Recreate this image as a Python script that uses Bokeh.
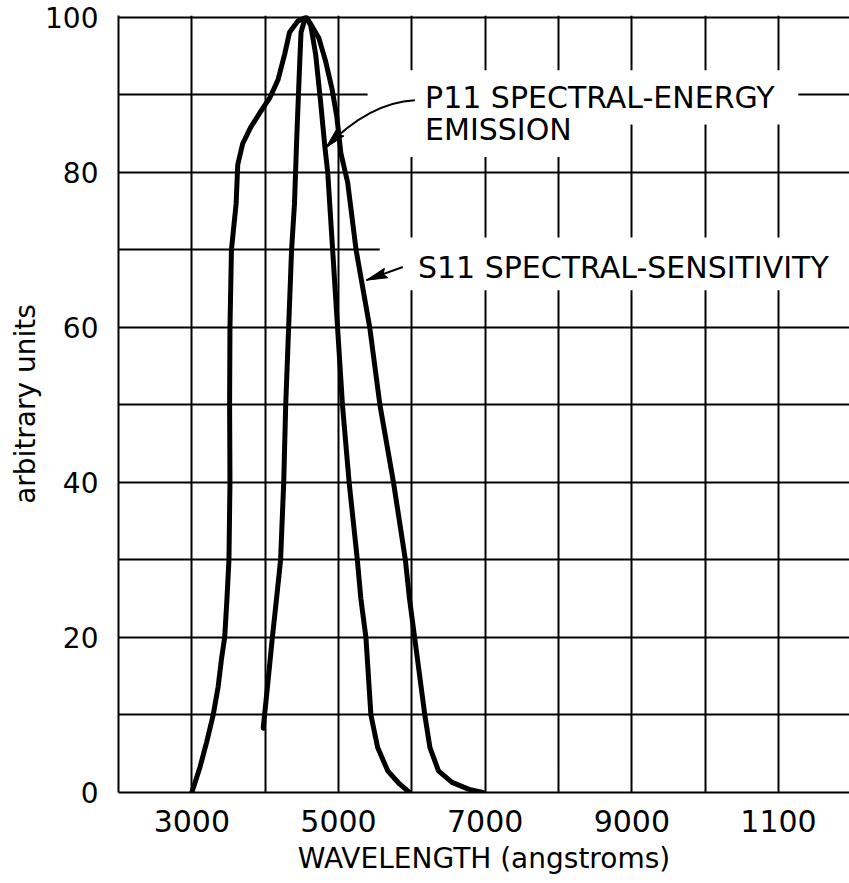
import math
from bokeh.plotting import figure
from bokeh.models import FixedTicker, Label, BoxAnnotation, Range1d
from bokeh.embed import file_html
from bokeh.resources import INLINE

# ---- data ----
s11_wavelength = [3000, 3112, 3202, 3291, 3358, 3404, 3448, 3479, 3506, 3520, 3515, 3520, 3540,
                  3604, 3626, 3693, 3807, 3942, 4067, 4177, 4267, 4333, 4444, 4550,
                  4611, 4733, 4823, 4911, 4977, 5032, 5125, 5240, 5426, 5565, 5750, 5912,
                  5968, 6038, 6177, 6247, 6363, 6548, 6781, 6967]
s11_value = [0, 3.3, 6.5, 10, 13.6, 17.2, 20, 25, 30, 40, 50, 60, 70,
             76, 81, 83.7, 85.9, 87.9, 89.7, 92, 95.3, 98.1, 99.5, 100,
             99.3, 97.3, 94.4, 90.8, 87.2, 82.5, 78.7, 70, 60, 50, 40, 30,
             25, 20, 10, 5.8, 2.8, 1.3, 0.4, 0]

p11_wavelength = [3973, 4031, 4098, 4165, 4210, 4253, 4280, 4320, 4360, 4400, 4431, 4467,
                  4489, 4533, 4565, 4623, 4689, 4756, 4813, 4853, 4920, 4987, 5054, 5145,
                  5257, 5305, 5374, 5442, 5534, 5671, 5832, 5968]
p11_value = [8.3, 13.6, 20, 25.9, 30, 40, 50, 60, 70, 76, 84.6, 93.2,
             98.1, 99.5, 100, 98.9, 95.2, 89.1, 83.4, 80, 70, 60, 50, 40,
             30, 25, 20, 10, 5.8, 2.8, 1.1, 0]

x_ticks = [3000, 5000, 7000, 9000, 11000]
x_tick_labels = ["3000", "5000", "7000", "9000", "1100"]
x_grid = [2000, 4000, 6000, 8000, 10000]
y_ticks = [0, 20, 40, 60, 80, 100]
y_tick_labels = ["0", "20", "40", "60", "80", "100"]
y_grid = [10, 30, 50, 70, 90]

p11_label_lines = ["P11 SPECTRAL-ENERGY", "EMISSION"]
s11_label = "S11 SPECTRAL-SENSITIVITY"
x_title = "WAVELENGTH (angstroms)"
y_title = "arbitrary units"

FONT = "DejaVu Sans"

W, H = 849, 883
B_LEFT, B_TOP, B_BOTTOM = 118, 15, 91
X_START, X_END = 2000, 11968
Y_START, Y_END = 0, 100.25
XS = (W - B_LEFT) / (X_END - X_START)          # px per data unit
YS = (H - B_BOTTOM - B_TOP) / (Y_END - Y_START)

p = figure(width=W, height=H,
           x_range=Range1d(X_START, X_END), y_range=Range1d(Y_START, Y_END),
           output_backend="svg", toolbar_location=None,
           min_border_left=B_LEFT, min_border_top=B_TOP, min_border_bottom=B_BOTTOM,
           min_border_right=0)
p.outline_line_color = None
p.background_fill_color = "white"
p.border_fill_color = "white"

# axes
p.xaxis.ticker = FixedTicker(ticks=x_ticks, minor_ticks=x_grid)
p.yaxis.ticker = FixedTicker(ticks=y_ticks, minor_ticks=y_grid)
p.xaxis.major_label_overrides = dict(zip(x_ticks, x_tick_labels))
p.yaxis.major_label_overrides = dict(zip(y_ticks, y_tick_labels))
for ax in (p.xaxis, p.yaxis):
    ax.major_tick_line_color = None
    ax.minor_tick_line_color = None
    ax.major_tick_out = 0
    ax.major_tick_in = 0
    ax.minor_tick_out = 0
    ax.minor_tick_in = 0
    ax.axis_line_color = "black"
    ax.axis_line_width = 2
    ax.major_label_text_font = FONT
    ax.major_label_text_color = "black"
    ax.axis_label_text_font = FONT
    ax.axis_label_text_font_size = "28px"
    ax.axis_label_text_font_style = "normal"
    ax.axis_label_text_color = "black"
p.xaxis.major_label_text_font_size = "30px"
p.yaxis.major_label_text_font_size = "28px"
p.xaxis.axis_label = x_title
p.yaxis.axis_label = y_title
p.xaxis.major_label_standoff = 17
p.xaxis.axis_label_standoff = 7
p.yaxis.major_label_standoff = 20
p.yaxis.axis_label_standoff = 0

for g in (p.xgrid, p.ygrid):
    g.grid_line_color = "black"
    g.grid_line_width = 2
    g.grid_line_alpha = 1
    g.minor_grid_line_color = "black"
    g.minor_grid_line_width = 2
    g.minor_grid_line_alpha = 1

# white boxes breaking the grid behind the labels (drawn just above the grid)
for l, r, t, b in [(5397, 8097, 93.2, 82.0), (8097, 11270, 93.2, 86.2), (5562, 12000, 71.6, 64.8)]:
    p.add_layout(BoxAnnotation(left=l, right=r, top=t, bottom=b, fill_color="white",
                               fill_alpha=1, line_color=None, level="underlay"))

# curves
p.line(s11_wavelength, s11_value, line_width=5, line_color="black",
       line_join="round", line_cap="round")
p.line(p11_wavelength, p11_value, line_width=5, line_color="black",
       line_join="round", line_cap="round")

# labels
p.add_layout(Label(x=6180, y=89.7, text=p11_label_lines[0], text_font=FONT, text_font_size="30px",
                   text_baseline="middle", text_align="left", text_color="black"))
p.add_layout(Label(x=6180, y=85.5, text=p11_label_lines[1], text_font=FONT, text_font_size="30px",
                   text_baseline="middle", text_align="left", text_color="black"))
p.add_layout(Label(x=6083, y=67.8, text=s11_label, text_font=FONT, text_font_size="30px",
                   text_baseline="middle", text_align="left", text_color="black"))


def arrow_head(tip, frm, length=21, half=5):
    """Slender triangular arrow head (pixel-sized) pointing from frm to tip, in data coords."""
    dx = (tip[0] - frm[0]) * XS
    dy = (tip[1] - frm[1]) * YS
    n = math.hypot(dx, dy)
    ux, uy = dx / n, dy / n
    bx, by = -ux * length, -uy * length
    px, py = -uy * half, ux * half
    pts = [(0, 0), (bx + px, by + py), (bx * 0.85, by * 0.85), (bx - px, by - py)]
    return [tip[0] + a / XS for a, _ in pts], [tip[1] + b / YS for _, b in pts]


# curved arrow to the P11 curve
P0 = (6042, 89.3)
C = (5418, 89.0)
P1 = (4827, 83.2)
p.quadratic(x0=[P0[0]], y0=[P0[1]], x1=[P1[0]], y1=[P1[1]], cx=[C[0]], cy=[C[1]],
            line_color="black", line_width=2)
hx, hy = arrow_head(P1, C)
p.patch(hx, hy, fill_color="black", line_color="black", line_width=1)

# straight arrow to the S11 curve
S0 = (5877, 67.8)
S1 = (5380, 66.1)
p.segment(x0=[S0[0]], y0=[S0[1]], x1=[S1[0]], y1=[S1[1]], line_color="black", line_width=2)
hx, hy = arrow_head(S1, S0)
p.patch(hx, hy, fill_color="black", line_color="black", line_width=1)

open("out.html", "w").write(file_html(p, INLINE))
